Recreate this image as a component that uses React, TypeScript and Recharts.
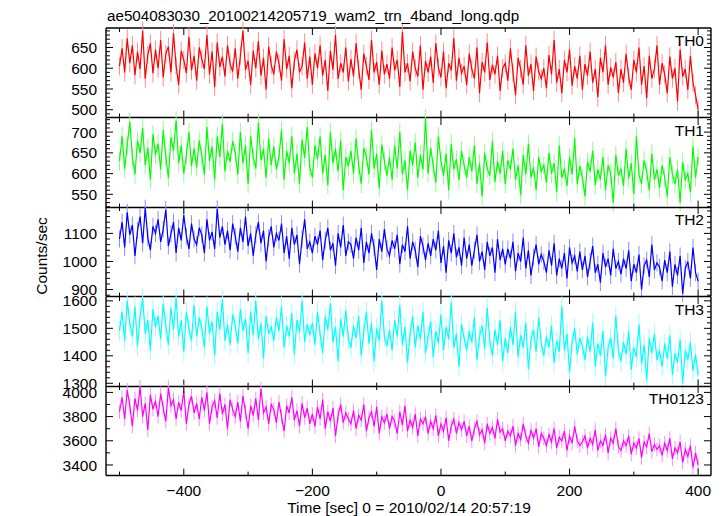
import React from "react";
import { LineChart, Line, XAxis, YAxis, ReferenceLine, ErrorBar } from "recharts";

// time bins (sec from 2010/02/14 20:57:19), 4 s step
const T_START = -500;
const T_STEP = 4;

const TH0 = [
  605, 648, 590, 672, 612, 655, 583, 640, 598, 690, 575, 632, 660, 588, 645,
  600, 668, 578, 635, 652, 590, 684, 606, 560, 642, 620, 588, 676, 595, 630,
  570, 650, 622, 598, 680, 585, 640, 555, 662, 603, 628, 580, 655, 610, 592,
  648, 575, 630, 690, 596, 618, 560, 642, 600, 665, 582, 625, 548, 652, 608,
  585, 640, 612, 570, 670, 598, 630, 552, 618, 645, 590, 605, 662, 575, 628,
  560, 636, 600, 655, 582, 620, 545, 642, 596, 680, 574, 612, 590, 650, 568,
  622, 580, 660, 598, 548, 635, 605, 572, 668, 590, 615, 560, 642, 585, 610,
  575, 650, 595, 620, 555, 688, 590, 612, 568, 640, 600, 580, 655, 548, 618,
  590, 628, 565, 660, 602, 578, 640, 552, 612, 595, 672, 570, 625, 588, 605,
  560, 635, 598, 575, 650, 540, 615, 590, 662, 572, 608, 585, 630, 545, 600,
  612, 570, 648, 590, 535, 625, 598, 560, 655, 582, 610, 545, 628, 592, 575,
  600, 552, 632, 585, 668, 565, 598, 540, 620, 590, 645, 558, 605, 575, 630,
  548, 610, 582, 640, 565, 598, 530, 625, 590, 655, 560, 602, 578, 615, 540,
  598, 565, 635, 580, 548, 620, 590, 650, 560, 605, 528, 630, 575, 598, 655,
  560, 612, 585, 540, 628, 575, 600, 520, 645, 580, 598, 548, 630, 565, 535,
  500,
];

const TH1 = [
  630, 690, 612, 668, 725, 640, 598, 680, 650, 710, 620, 662, 585, 695, 645,
  672, 610, 705, 640, 590, 688, 655, 728, 625, 668, 600, 645, 700, 618, 660,
  615, 680, 642, 598, 712, 630, 665, 585, 690, 640, 720, 605, 655, 628, 678,
  650, 598, 700, 625, 668, 575, 690, 640, 612, 722, 632, 660, 590, 685, 620,
  665, 610, 640, 705, 585, 655, 625, 690, 600, 648, 575, 682, 638, 712, 615,
  590, 668, 635, 690, 600, 645, 572, 700, 625, 660, 605, 680, 560, 640, 618,
  655, 600, 685, 620, 575, 662, 640, 598, 705, 612, 648, 565, 670, 630, 595,
  640, 585, 668, 612, 700, 598, 632, 560, 655, 620, 675, 590, 645, 610, 734,
  600, 662, 618, 578, 690, 630, 595, 648, 560, 672, 610, 635, 585, 655, 620,
  590, 640, 605, 668, 575, 625, 545, 650, 612, 595, 678, 580, 630, 600, 655,
  575, 632, 610, 660, 585, 620, 548, 645, 598, 672, 590, 615, 560, 640, 605,
  620, 578, 650, 600, 625, 555, 668, 590, 612, 570, 640, 598, 685, 575, 618,
  590, 545, 628, 605, 655, 572, 610, 585, 640, 560, 620, 600, 530, 645, 595,
  612, 570, 660, 588, 625, 550, 690, 598, 575, 632, 605, 560, 648, 585, 610,
  565, 620, 590, 545, 640, 598, 575, 610, 530, 628, 585, 600, 555, 665, 590,
  640,
];

const TH2 = [
  1080, 1140, 1050, 1175, 1095, 1130, 1020, 1110, 1160, 1065, 1190, 1085, 1040, 1125, 1100,
  1150, 1070, 1115, 1185, 1055, 1098, 1140, 1030, 1120, 1075, 1165, 1090, 1045, 1135, 1080,
  1060, 1120, 1095, 1030, 1150, 1075, 1105, 1045, 1188, 1085, 1125, 1060, 1110, 1040, 1135,
  1090, 1035, 1120, 1070, 1160, 1055, 1100, 1020, 1095, 1140, 1065, 1110, 1000, 1085, 1125,
  1050, 1100, 1075, 1135, 1030, 1090, 1010, 1120, 1060, 1095, 990, 1080, 1150, 1045, 1070,
  1030, 1090, 1060, 1110, 1005, 1075, 1120, 1040, 1065, 985, 1100, 1050, 1130, 1020, 1070,
  1060, 1010, 1085, 1040, 1120, 995, 1070, 1030, 1100, 1050, 970, 1080, 1035, 1115, 1045,
  1020, 1075, 1045, 1095, 990, 1060, 1035, 1125, 1010, 1070, 1040, 980, 1090, 1055, 1005,
  1065, 1020, 1080, 1040, 1110, 995, 1055, 960, 1075, 1030, 1100, 1015, 1050, 985, 1085,
  1010, 1060, 985, 1040, 1095, 1000, 1035, 970, 1070, 1020, 1050, 960, 1080, 1005, 1045,
  990, 1045, 1010, 1070, 965, 1030, 1000, 1085, 975, 1040, 950, 1015, 1060, 990, 1025,
  1000, 960, 1040, 985, 1065, 950, 1010, 975, 1030, 940, 1050, 995, 1020, 965, 1035,
  970, 1020, 945, 1000, 1055, 960, 990, 925, 1030, 980, 1010, 950, 1045, 975, 1000,
  955, 1010, 975, 1040, 930, 990, 960, 1025, 900, 985, 1005, 945, 1060, 970, 995,
  980, 930, 1005, 960, 1035, 910, 990, 950, 1020, 885, 975, 1000, 940, 1050, 960,
  930,
];

const TH3 = [
  1490, 1560, 1455, 1600, 1520, 1470, 1580, 1435, 1545, 1610, 1480, 1530, 1420, 1570, 1505,
  1545, 1460, 1590, 1510, 1440, 1575, 1495, 1610, 1470, 1530, 1415, 1560, 1500, 1455, 1585,
  1470, 1540, 1500, 1430, 1580, 1480, 1525, 1400, 1560, 1495, 1605, 1455, 1515, 1440, 1550,
  1510, 1445, 1570, 1490, 1535, 1410, 1560, 1475, 1600, 1460, 1520, 1390, 1545, 1480, 1505,
  1455, 1540, 1490, 1580, 1430, 1510, 1470, 1555, 1405, 1530, 1485, 1600, 1450, 1515, 1475,
  1520, 1440, 1560, 1480, 1410, 1545, 1495, 1590, 1450, 1505, 1380, 1535, 1470, 1565, 1460,
  1430, 1510, 1465, 1545, 1400, 1490, 1560, 1445, 1520, 1380, 1500, 1455, 1600, 1470, 1435,
  1495, 1420, 1530, 1470, 1585, 1440, 1505, 1375, 1480, 1545, 1430, 1510, 1460, 1560, 1410,
  1470, 1525, 1395, 1490, 1445, 1550, 1420, 1505, 1460, 1595, 1430, 1480, 1360, 1515, 1465,
  1420, 1490, 1450, 1540, 1385, 1470, 1510, 1425, 1575, 1455, 1400, 1495, 1440, 1530, 1380,
  1465, 1410, 1505, 1440, 1560, 1395, 1475, 1430, 1520, 1350, 1460, 1495, 1415, 1540, 1445,
  1400, 1470, 1430, 1510, 1375, 1455, 1415, 1580, 1420, 1480, 1340, 1450, 1500, 1405, 1465,
  1435, 1385, 1470, 1415, 1520, 1360, 1445, 1400, 1490, 1325, 1430, 1465, 1390, 1545, 1420,
  1380, 1450, 1405, 1490, 1350, 1430, 1395, 1515, 1370, 1440, 1310, 1465, 1410, 1480, 1385,
  1420, 1360, 1445, 1390, 1475, 1330, 1410, 1375, 1460, 1300, 1420, 1385, 1450, 1345, 1405,
  1330,
];

const TH0123 = [
  3840, 3960, 3780, 4020, 3890, 3720, 3950, 3850, 4045, 3800, 3910, 3690, 3980, 3860, 3930,
  3800, 3990, 3870, 3760, 4040, 3890, 3940, 3780, 3920, 3850, 4010, 3740, 3900, 3970, 3830,
  3910, 3780, 3960, 3850, 4000, 3740, 3880, 3930, 3790, 3990, 3820, 3900, 3700, 3940, 3860,
  3800, 3920, 3760, 3970, 3840, 3700, 3890, 3810, 3950, 3770, 4030, 3830, 3880, 3740, 3900,
  3860, 3750, 3920, 3800, 3680, 3890, 3830, 3960, 3770, 3850, 3720, 3910, 3790, 3870, 3740,
  3820, 3720, 3880, 3780, 3940, 3700, 3840, 3760, 3870, 3640, 3810, 3900, 3750, 3830, 3780,
  3740, 3850, 3700, 3810, 3770, 3900, 3680, 3790, 3840, 3720, 3880, 3660, 3800, 3750, 3820,
  3700, 3800, 3760, 3660, 3840, 3730, 3890, 3680, 3770, 3710, 3820, 3640, 3780, 3740, 3800,
  3660, 3760, 3700, 3810, 3640, 3740, 3680, 3790, 3600, 3720, 3780, 3660, 3750, 3690, 3760,
  3640, 3720, 3600, 3700, 3760, 3650, 3690, 3580, 3740, 3660, 3710, 3620, 3780, 3670, 3700,
  3600, 3680, 3640, 3720, 3560, 3660, 3610, 3740, 3640, 3580, 3690, 3620, 3700, 3550, 3660,
  3620, 3560, 3650, 3590, 3700, 3540, 3630, 3600, 3680, 3520, 3640, 3580, 3720, 3600, 3560,
  3590, 3640, 3540, 3620, 3570, 3690, 3520, 3600, 3560, 3650, 3500, 3620, 3580, 3700, 3550,
  3520, 3600, 3560, 3640, 3490, 3580, 3540, 3620, 3460, 3590, 3550, 3660, 3510, 3570, 3530,
  3560, 3480, 3580, 3520, 3620, 3450, 3540, 3500, 3590, 3420, 3530, 3470, 3560, 3380, 3500,
  3400,
];

// typical 1-sigma error per bin
const ERR_TH0 = 22;
const ERR_TH1 = 22;
const ERR_TH2 = 30;
const ERR_TH3 = 36;
const ERR_TH0123 = 58;

const X_DOMAIN: [number, number] = [-521, 420];
const X_TICKS = [-500, -400, -300, -200, -100, 0, 100, 200, 300, 400];

const PANELS = [
  { name: "TH0", color: "#ff0000", light: "#ff8c8c", data: TH0, err: ERR_TH0, domain: [481, 697], step: 10, major: 50 },
  { name: "TH1", color: "#00ff00", light: "#8cff8c", data: TH1, err: ERR_TH1, domain: [518, 734], step: 10, major: 50 },
  { name: "TH2", color: "#0000ff", light: "#8c8cff", data: TH2, err: ERR_TH2, domain: [875, 1194], step: 20, major: 100 },
  { name: "TH3", color: "#00ffff", light: "#9cffff", data: TH3, err: ERR_TH3, domain: [1288, 1614], step: 20, major: 100 },
  { name: "TH0123", color: "#ff00ff", light: "#ff8cff", data: TH0123, err: ERR_TH0123, domain: [3312, 4053], step: 100, major: 200 },
];

const W = 723;
const H = 516;
const LEFT = 106;
const RIGHT = 711;
const TOP = 28;
const BOTTOM = 476;
const PANEL_H = (BOTTOM - TOP) / PANELS.length;
const PLOT_W = RIGHT - LEFT;
const PAD = 12;
const X_AXIS_H = 40;
const INK = "#000";
const FONT = "'Liberation Sans', Arial, Helvetica, sans-serif";
const FS = 15.5;

function tickValues(lo: number, hi: number, step: number) {
  const out: number[] = [];
  for (let v = Math.ceil(lo / step) * step; v <= hi; v += step) out.push(v);
  return out;
}

function fmtX(v: number) {
  return v < 0 ? "\u2212" + Math.abs(v) : String(v);
}

function YTick(props: any) {
  const x = Number(props.x);
  const y = Number(props.y);
  const v = props.payload.value;
  const isMajor = v % props.major === 0;
  const len = isMajor ? 7 : 4;
  return (
    <g>
      <path d={`M${x},${y}h${len}`} stroke={INK} strokeWidth={1} fill="none" />
      <path d={`M${x + PLOT_W},${y}h${-len}`} stroke={INK} strokeWidth={1} fill="none" />
      {isMajor && (
        <text x={x - 9} y={y} dy="0.36em" textAnchor="end" fontSize={FS} fontFamily={FONT} fill={INK}>
          {v}
        </text>
      )}
    </g>
  );
}

function XTick(props: any) {
  const x = Number(props.x);
  const y = Number(props.y);
  const v = props.payload.value;
  const isMajor = v % 200 === 0;
  const len = isMajor ? 7 : 4;
  return (
    <g>
      <path d={`M${x},${y}v${-len}`} stroke={INK} strokeWidth={1} fill="none" />
      <path d={`M${x},${y - PANEL_H}v${len}`} stroke={INK} strokeWidth={1} fill="none" />
      {props.showLabel && isMajor && (
        <text x={x} y={y + 20} textAnchor="middle" fontSize={FS} fontFamily={FONT} fill={INK}>
          {fmtX(v)}
        </text>
      )}
    </g>
  );
}

function Panel({ idx }: { idx: number }) {
  const p = PANELS[idx];
  const last = idx === PANELS.length - 1;
  const rows = p.data.map((v, i) => ({ t: T_START + i * T_STEP, v, e: p.err }));
  const yTicks = tickValues(p.domain[0], p.domain[1], p.step);
  const xh = last ? X_AXIS_H : 1;
  const bottomPad = last ? 0 : PAD - 1;
  return (
    <div style={{ position: "absolute", left: 0, top: TOP + idx * PANEL_H - PAD }}>
      <LineChart
        width={W}
        height={PAD + PANEL_H + bottomPad + xh}
        data={rows}
        margin={{ top: PAD, right: W - RIGHT, bottom: bottomPad, left: 0 }}
      >
        <XAxis
          type="number"
          dataKey="t"
          domain={X_DOMAIN}
          ticks={X_TICKS}
          interval={0}
          allowDataOverflow
          height={xh}
          tickSize={0}
          tickMargin={0}
          tickLine={false}
          axisLine={{ stroke: INK, strokeWidth: 1.5 }}
          tick={(tp: any) => <XTick {...tp} showLabel={last} />}
        />
        <YAxis
          type="number"
          domain={p.domain}
          ticks={yTicks}
          interval={0}
          allowDataOverflow
          width={LEFT}
          tickSize={0}
          tickMargin={0}
          tickLine={false}
          axisLine={{ stroke: INK, strokeWidth: 1.4 }}
          tick={(tp: any) => <YTick {...tp} major={p.major} />}
        />
        <ReferenceLine x={X_DOMAIN[1]} stroke={INK} strokeWidth={1.4} />
        {idx === 0 && <ReferenceLine y={p.domain[1]} stroke={INK} strokeWidth={1.4} />}
        <Line dataKey="v" stroke="none" dot={false} isAnimationActive={false}>
          <ErrorBar dataKey="e" direction="y" width={0} stroke={p.light} strokeWidth={1} />
        </Line>
        <Line
          type="linear"
          dataKey="v"
          stroke={p.color}
          strokeWidth={1.2}
          dot={false}
          isAnimationActive={false}
        />
      </LineChart>
    </div>
  );
}

export default function App() {
  return (
    <div style={{ position: "absolute", left: 0, top: 0, width: W, height: H, background: "#fff" }}>
      {PANELS.map((p, i) => (
        <Panel key={p.name} idx={i} />
      ))}
      <svg
        width={W}
        height={H}
        style={{ position: "absolute", left: 0, top: 0, pointerEvents: "none" }}
        fontFamily={FONT}
      >
        <text x={107} y={21} fontSize={15.2} fill={INK}>
          ae504083030_20100214205719_wam2_trn_4band_long.qdp
        </text>
        {PANELS.map((p, i) => (
          <text key={p.name} x={704} y={TOP + i * PANEL_H + 18} textAnchor="end" fontSize={FS} fill={INK}>
            {p.name}
          </text>
        ))}
        <text x={47} y={256} transform="rotate(-90 47 256)" textAnchor="middle" fontSize={FS} fill={INK}>
          Counts/sec
        </text>
        <text x={409} y={513} textAnchor="middle" fontSize={FS} fill={INK}>
          Time [sec] 0 = 2010/02/14 20:57:19
        </text>
      </svg>
    </div>
  );
}
